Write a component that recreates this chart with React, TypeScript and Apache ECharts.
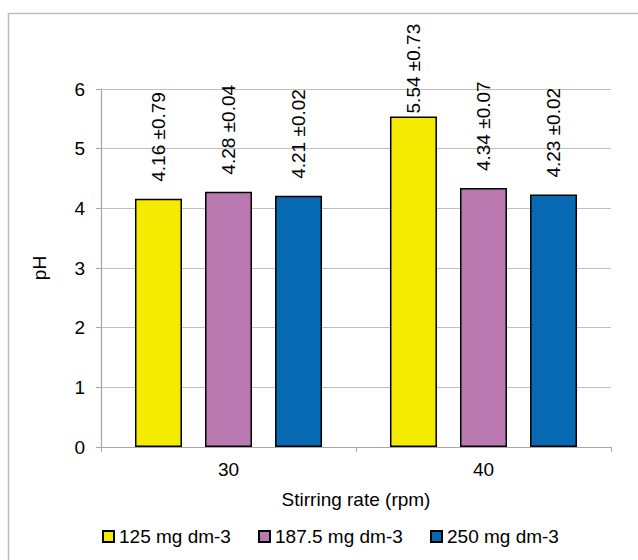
import React, { useEffect, useRef } from "react";
import * as echarts from "echarts";

const categories = ["30", "40"];
const seriesNames = ["125 mg dm-3", "187.5 mg dm-3", "250 mg dm-3"];
const meanValues = [
  [4.16, 5.54],
  [4.28, 4.34],
  [4.21, 4.23],
];
const sdValues = [
  [0.79, 0.73],
  [0.04, 0.07],
  [0.02, 0.02],
];
const colors = ["#F4EB00", "#BA78B1", "#0669B2"];
const yTicks = [0, 1, 2, 3, 4, 5, 6];
const legendLefts = [102, 258, 430];

const FONT = "'Liberation Sans', Arial, sans-serif";
const FS = 19;

export default function App() {
  const ref = useRef<HTMLDivElement>(null);
  useEffect(() => {
    if (!ref.current) return;
    const chart = echarts.init(ref.current, undefined, { renderer: "svg" });
    chart.setOption({
      animation: false,
      backgroundColor: "#ffffff",
      textStyle: { fontFamily: FONT },
      graphic: [
        {
          type: "rect",
          shape: { x: 8.5, y: 13.5, width: 700, height: 700 },
          style: { fill: "none", stroke: "#BDBDBD", lineWidth: 1.5 },
          silent: true,
        },
      ],
      grid: { left: 101, right: 27, top: 89, bottom: 113, containLabel: false },
      legend: seriesNames.map((name, i) => ({
        data: [name],
        left: legendLefts[i],
        top: 527,
        padding: 0,
        itemWidth: 11,
        itemHeight: 11,
        icon: "rect",
        textStyle: { fontSize: FS, color: "#000", fontFamily: FONT },
      })),
      xAxis: {
        type: "category",
        data: categories,
        name: "Stirring rate (rpm)",
        nameLocation: "middle",
        nameGap: 43,
        nameTextStyle: { fontSize: FS, color: "#000", fontFamily: FONT },
        axisLine: { lineStyle: { color: "#A6A6A6", width: 1.2 } },
        axisTick: { show: true, length: 5, lineStyle: { color: "#A6A6A6" } },
        axisLabel: { fontSize: FS, color: "#000", margin: 13, fontFamily: FONT },
      },
      yAxis: {
        type: "value",
        min: yTicks[0],
        max: yTicks[yTicks.length - 1],
        interval: 1,
        name: "pH",
        nameLocation: "middle",
        nameGap: 52,
        nameTextStyle: { fontSize: FS, color: "#000", fontFamily: FONT },
        axisLine: { show: true, lineStyle: { color: "#A6A6A6", width: 1.2 } },
        axisTick: { show: true, length: 5, lineStyle: { color: "#A6A6A6" } },
        axisLabel: { fontSize: FS, color: "#000", margin: 16, fontFamily: FONT },
        splitLine: { lineStyle: { color: "#BFBFBF", width: 1.2 } },
      },
      series: seriesNames.map((name, i) => ({
        name,
        type: "bar",
        data: meanValues[i],
        barWidth: 47,
        barGap: "49%",
        itemStyle: { color: colors[i], borderColor: "#000", borderWidth: 1.5 },
        label: {
          show: true,
          position: "top",
          rotate: 90,
          align: "left",
          verticalAlign: "middle",
          distance: 3,
          fontSize: FS,
          color: "#000",
          fontFamily: FONT,
          rich: {
            p: { fontSize: FS, color: "#000", fontFamily: FONT, padding: [0, 0, 0, 14] },
            q: { fontSize: FS, color: "#000", fontFamily: FONT },
          },
          formatter: (p: any) => {
            const v = meanValues[i][p.dataIndex];
            const txt = `${v.toFixed(2)} ±${sdValues[i][p.dataIndex].toFixed(2)}`;
            return v > 5 ? `{q|${txt}}` : `{p|${txt}}`;
          },
        },
      })),
    });
    return () => chart.dispose();
  }, []);
  return (
    <div
      ref={ref}
      style={{ position: "absolute", left: 0, top: 0, width: 638, height: 560 }}
    />
  );
}
